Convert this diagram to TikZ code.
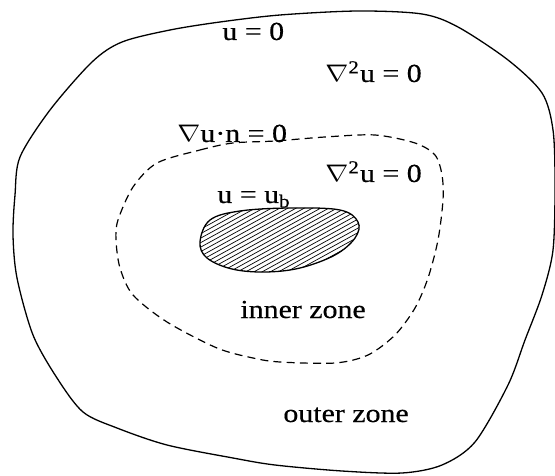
\documentclass[tikz,border=0pt]{standalone}
\usepackage{fontspec}
\setmainfont{Liberation Serif}[FakeBold=0.4]
\begin{document}
\begin{tikzpicture}[x=0.5pt,y=-0.5pt,
  lbl/.style={anchor=base west,inner sep=0pt,font=\fontsize{13}{15}\selectfont},
  outerline/.style={line width=0.65pt},
  zoneline/.style={line width=0.6pt,dash pattern=on 4pt off 2.6pt},
  hatch/.style={line width=0.35pt}]
\useasboundingbox (0,0) rectangle (555,475);
% outer boundary
\draw[outerline] plot[smooth cycle,tension=0.5] coordinates {
 (122,42) (170,30) (220,22) (280,15) (358,11) (422,14) (458,27) (508,60)
 (542,93) (553,130) (555,185) (553,250) (542,295) (525,340) (508,385)
 (475,442) (442,465) (402,473) (342,471) (275,465) (233,458) (167,445)
 (117,428) (83,412) (57,378) (33,335) (17,278) (13,235) (15,195) (20,157)
 (50,110) (92,62)};
% dashed inner zone boundary
\draw[zoneline] plot[smooth cycle,tension=0.5] coordinates {
 (157,163) (200,150) (233,143) (275,141) (325,137) (375,135) (415,143)
 (435,155) (442,175) (443,200) (438,240) (428,278) (415,308) (395,335)
 (368,355) (335,363) (280,362) (253,358) (217,348) (167,322) (133,295)
 (120,268) (116,240) (118,220) (133,187)};
% body
\begin{scope}
 \clip plot[smooth cycle,tension=0.6] coordinates {
  (200,242) (210,220) (240,211) (290,208) (340,210) (358,222) (355,238)
  (335,255) (300,268) (265,272) (232,269) (207,258)};
 \foreach \c in {200,204.5,...,400} \draw[hatch] (180,\c) -- (380,\c-110);
\end{scope}
\draw[outerline] plot[smooth cycle,tension=0.6] coordinates {
  (200,242) (210,220) (240,211) (290,208) (340,210) (358,222) (355,238)
  (335,255) (300,268) (265,272) (232,269) (207,258)};
% labels
\node[lbl] (bc0) at (222,40) {\scalebox{1.15}[1]{u = 0}};
\node[lbl] (lapout) at (325,82) {\scalebox{1.15}[1]{$\nabla$\textsuperscript{2}u = 0}};
\node[lbl] (neu) at (177,142) {\scalebox{1.15}[1]{$\nabla$u·n = 0}};
\node[lbl] (lapin) at (325,182) {\scalebox{1.15}[1]{$\nabla$\textsuperscript{2}u = 0}};
\node[lbl] (bcb) at (217,203) {\scalebox{1.15}[1]{u = u\textsubscript{b}}};
\node[lbl] (inz) at (240,318) {\scalebox{1.15}[1]{inner zone}};
\node[lbl] (outz) at (283,422) {\scalebox{1.15}[1]{outer zone}};
\end{tikzpicture}
\end{document}
